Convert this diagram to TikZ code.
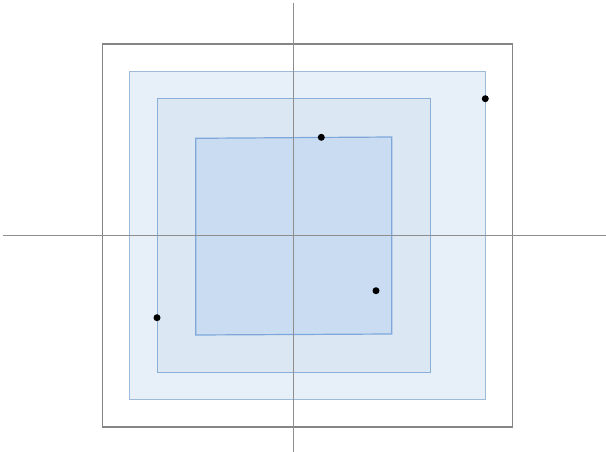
\documentclass[tikz,border=0pt]{standalone}
\usetikzlibrary{calc}
\definecolor{axisgray}{HTML}{8E8E8E}
\definecolor{outergray}{HTML}{858585}
\definecolor{fillA}{HTML}{E7EFF9}
\definecolor{fillB}{HTML}{DCE7F4}
\definecolor{fillC}{HTML}{C9DCF1}
\definecolor{strokeA}{HTML}{9DBBD8}
\definecolor{strokeB}{HTML}{8BB0D8}
\definecolor{strokeC}{HTML}{7EA8DA}
\tikzset{
  axisline/.style={draw=axisgray, line width=1.4pt},
  outerbox/.style={draw=outergray, line width=1.4pt},
  regionA/.style={fill=fillA, draw=strokeA, line width=1.2pt},
  regionB/.style={fill=fillB, draw=strokeB, line width=1.2pt},
  regionC/.style={fill=fillC, draw=strokeC, line width=1.2pt},
  pt/.style={circle, fill=black, inner sep=0pt, minimum size=7pt}
}
\begin{document}
\begin{tikzpicture}[x=1pt,y=-1pt]
\useasboundingbox (0,0) rectangle (606,452);
\fill[white] (0,0) rectangle (606,452);
\draw[outerbox] (102.3,44) rectangle (512.3,427);
\draw[regionA] (129.7,71.7) rectangle (485.3,399.7);
\draw[regionB] (157.7,98.3) rectangle (430.7,372.3);
\draw[regionC] (195.7,138.3) -- (391.7,137) -- (391.7,334) -- (195.7,335) -- cycle;
\draw[axisline] (3,235.3) -- (606,235.3);
\draw[axisline] (293.7,3) -- (293.7,452);
\node[pt] (p1) at (485.3,98.7) {};
\node[pt] (p2) at (321.3,137.3) {};
\node[pt] (p3) at (376,290.7) {};
\node[pt] (p4) at (157,317.7) {};
\end{tikzpicture}
\end{document}
